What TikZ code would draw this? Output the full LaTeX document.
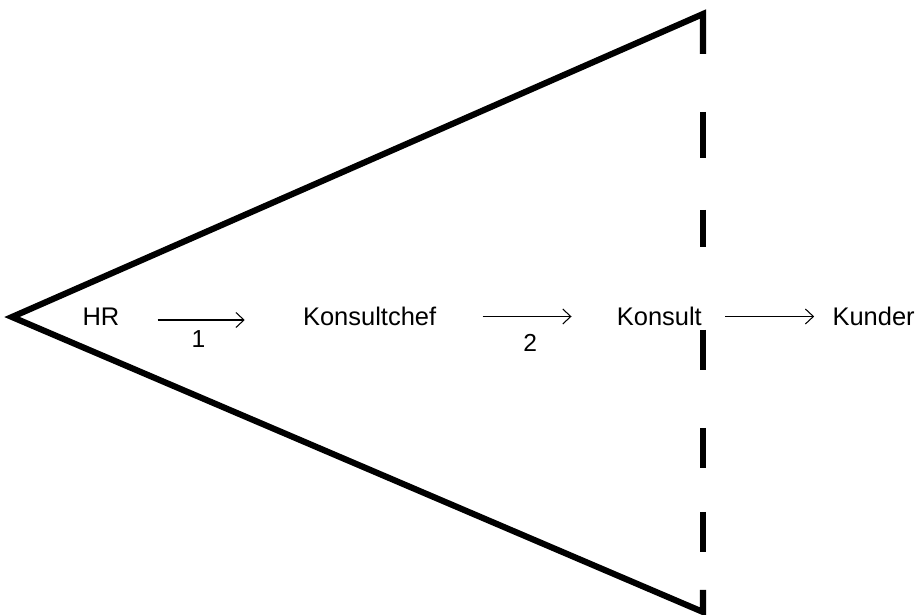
\documentclass[tikz,border=0pt]{standalone}
\usepackage{fontspec}
\setmainfont{Liberation Sans}
\usetikzlibrary{arrows.meta,positioning}

\begin{document}
\begin{tikzpicture}[
  x=0.02cm,y=0.02cm,
  edge/.style={line width=3.5pt,line join=miter,line cap=butt},
  tx/.style={inner sep=0pt,font=\fontsize{14.5}{17}\selectfont,
    text height=10.4pt,text depth=0pt},
  a/.style={-{Straight Barb[length=1.6mm,width=3mm]},line width=0.6pt},
  num/.style={inner sep=0pt,font=\fontsize{14}{17}\selectfont}
]
  \useasboundingbox (0,0) rectangle (916,615);
  % triangle with the first dash on top
  \coordinate (top) at (703,601);
  \coordinate (tip) at (12,298);
  \coordinate (bot) at (703,3);
  \draw[edge] (703,561) -- (top) -- (tip) -- (bot) -- (703,25);
  % remaining dashes of the right side
  \foreach \ya/\yb in {112/158,210/247,330/370,428/468,512/552}
    \draw[edge] (703,615-\ya) -- (703,615-\yb);
  % chain
  \node[tx] (hr) at (101,298.5) {HR};
  \node[tx,right=3.66cm of hr] (chef) {Konsultchef};
  \node[tx,right=3.6cm of chef] (kons) {Konsult};
  \node[tx,right=2.6cm of kons] (kund) {Kunder};
  \draw[a,shorten <=0.76cm,shorten >=1.16cm] ([yshift=-0.07cm]hr.east) --
    node[num,below=0.2cm,pos=0.43]{1} ([yshift=-0.07cm]chef.west);
  \draw[a,shorten <=0.92cm,shorten >=0.9cm] (chef.east) --
    node[num,below=0.34cm,pos=0.52]{2} (kons.west);
  \draw[a,shorten <=0.46cm,shorten >=0.36cm] (kons.east) -- (kund.west);
\end{tikzpicture}
\end{document}
